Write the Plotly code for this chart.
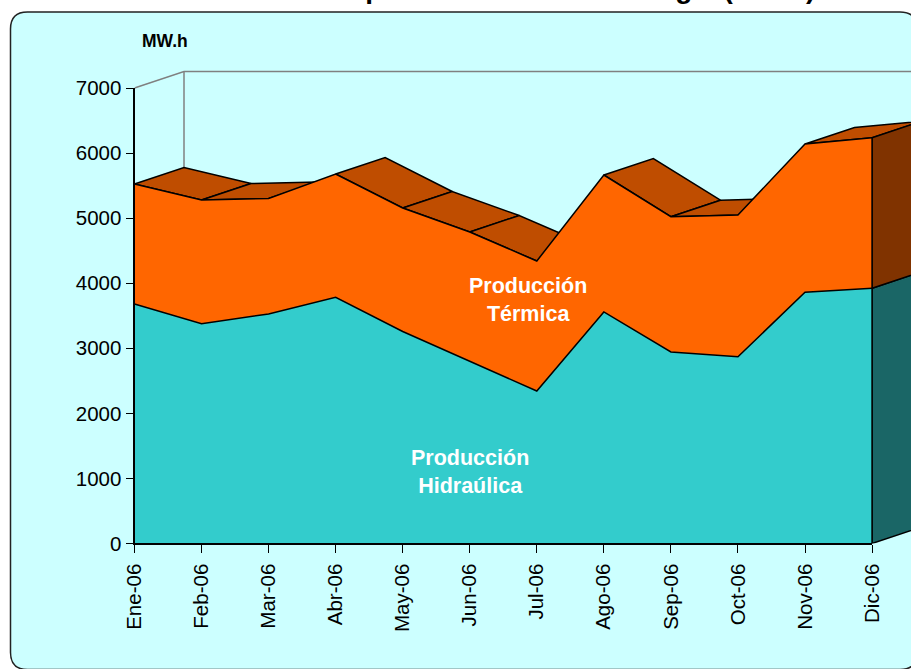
import plotly.graph_objects as go

months = ["Ene-06", "Feb-06", "Mar-06", "Abr-06", "May-06", "Jun-06",
          "Jul-06", "Ago-06", "Sep-06", "Oct-06", "Nov-06", "Dic-06"]
hidraulica = [3680, 3378, 3527, 3784, 3258, 2805, 2344, 3558, 2943, 2871, 3860, 3922]
termica = [1845, 1901, 1775, 1895, 1898, 1982, 1997, 2105, 2079, 2177, 2280, 2314]
y_ticks = [0, 1000, 2000, 3000, 4000, 5000, 6000, 7000]

# chart geometry (pixels in the 911x669 page)
W, H = 911, 669
X0, Y0 = 134.5, 543.5
PX_MONTH = 67.05
PX_UNIT = 455.5 / 7000
DEPTH_X = 49.5 / PX_MONTH     # in months
DEPTH_Y = 16.5 / PX_UNIT      # in MW.h
EDGE = 0.75                   # half the width of the overlay axis lines, in pixels

BG = "#CCFFFF"
C_HYD, C_TER = "#33CCCC", "#FF6600"
C_TOP, C_SIDE_T, C_SIDE_H = "#BF4D00", "#803300", "#1A6666"
LINE = dict(color="black", width=1.5)
WALL = dict(color="#808080", width=1.5)

xs = list(range(len(months)))
total = [h + t for h, t in zip(hidraulica, termica)]
x_end = (W - X0) / PX_MONTH
last = xs[-1]
top = y_ticks[-1]

fig = go.Figure()


def poly(px, py, color):
    fig.add_trace(go.Scatter(x=px + px[:1], y=py + py[:1], mode="lines", fill="toself",
                             fillcolor=color, line=LINE, hoverinfo="skip", showlegend=False))


def seg(px, py, line):
    fig.add_trace(go.Scatter(x=px, y=py, mode="lines", line=line, hoverinfo="skip", showlegend=False))


# back wall
seg([0, DEPTH_X, x_end], [top, top + DEPTH_Y, top + DEPTH_Y], WALL)
seg([DEPTH_X, DEPTH_X], [top + DEPTH_Y, 0], WALL)

# top faces of the upper series; faces turned away from the viewer are culled
for i in range(last):
    if total[i + 1] - total[i] < DEPTH_Y / DEPTH_X:
        poly([xs[i], xs[i + 1], xs[i + 1] + DEPTH_X, xs[i] + DEPTH_X],
             [total[i], total[i + 1], total[i + 1] + DEPTH_Y, total[i] + DEPTH_Y], C_TOP)

# right-hand side faces
poly([last, last + DEPTH_X, last + DEPTH_X, last],
     [0, DEPTH_Y, hidraulica[-1] + DEPTH_Y, hidraulica[-1]], C_SIDE_H)
poly([last, last + DEPTH_X, last + DEPTH_X, last],
     [hidraulica[-1], hidraulica[-1] + DEPTH_Y, total[-1] + DEPTH_Y, total[-1]], C_SIDE_T)

# front stacked areas
fig.add_trace(go.Scatter(x=xs, y=hidraulica, name="Producción Hidraúlica", stackgroup="a",
                         mode="lines", line=LINE, fillcolor=C_HYD,
                         hoverinfo="skip", showlegend=False))
fig.add_trace(go.Scatter(x=xs, y=termica, name="Producción Térmica", stackgroup="a",
                         mode="lines", line=LINE, fillcolor=C_TER,
                         hoverinfo="skip", showlegend=False))

# front edge at December
seg([last, last], [0, total[-1]], LINE)

# overlay axes whose lines draw the left and bottom front edges (Ene-06..Dic-06, 0..7000)
fig.add_trace(go.Scatter(x=[0, last], y=[0, top], mode="lines", line=dict(color="rgba(0,0,0,0)", width=0),
                         xaxis="x2", yaxis="y2", hoverinfo="skip", showlegend=False))

FONT = "Liberation Sans, Arial, sans-serif"
panel_l, panel_t, panel_r, panel_b, rad = 10.5, 12.0, 917.0, 669.5, 17.0


def px(v):
    return v / W


def py(v):
    return 1 - v / H


panel = (f"M {px(panel_l)} {py(panel_t + rad)} Q {px(panel_l)} {py(panel_t)} {px(panel_l + rad)} {py(panel_t)} "
         f"L {px(panel_r - rad)} {py(panel_t)} Q {px(panel_r)} {py(panel_t)} {px(panel_r)} {py(panel_t + rad)} "
         f"L {px(panel_r)} {py(panel_b - rad)} Q {px(panel_r)} {py(panel_b)} {px(panel_r - rad)} {py(panel_b)} "
         f"L {px(panel_l + rad)} {py(panel_b)} Q {px(panel_l)} {py(panel_b)} {px(panel_l)} {py(panel_b - rad)} Z")

fig.update_layout(
    width=W, height=H, autosize=False,
    margin=dict(l=0, r=0, t=0, b=0, autoexpand=False),
    paper_bgcolor="white", plot_bgcolor="rgba(0,0,0,0)",
    showlegend=False,
    font=dict(family=FONT, color="black"),
    shapes=[dict(type="path", path=panel, xref="paper", yref="paper", fillcolor=BG,
                 line=dict(color="#222222", width=1.5), layer="below")],
    xaxis=dict(domain=[X0 / W, 1], range=[0, x_end], tickmode="array", tickvals=xs, ticktext=months,
               tickangle=-90, ticks="outside", ticklen=8, tickwidth=1, tickcolor="black",
               ticklabelstandoff=3,
               tickfont=dict(size=20.5, family=FONT, color="black"),
               showgrid=False, zeroline=False, showline=False, anchor="y", fixedrange=True),
    yaxis=dict(domain=[1 - Y0 / H, 1], range=[0, Y0 / PX_UNIT], tickmode="array", tickvals=y_ticks,
               ticks="outside", ticklen=8, tickwidth=1, tickcolor="black",
               tickfont=dict(size=20.5, family=FONT, color="black"),
               showgrid=False, zeroline=False, showline=False, anchor="x", fixedrange=True),
    xaxis2=dict(domain=[(X0 + EDGE) / W, (X0 + last * PX_MONTH) / W], range=[0, last], anchor="y2",
                showline=True, linecolor="black", linewidth=1.5, ticks="", showticklabels=False,
                showgrid=False, zeroline=False, fixedrange=True),
    yaxis2=dict(domain=[1 - (Y0 - EDGE) / H, 1 - (Y0 - top * PX_UNIT) / H], range=[0, top], anchor="x2",
                showline=True, linecolor="black", linewidth=1.5, ticks="", showticklabels=False,
                showgrid=False, zeroline=False, fixedrange=True),
    annotations=[
        dict(text="Composición Anual de Energía (MW.h)", xref="paper", yref="paper", x=817 / W, y=py(6),
             xanchor="right", yanchor="bottom", showarrow=False,
             font=dict(size=28, family=FONT, color="black", weight="bold")),
        dict(text="<b>MW.h</b>", xref="paper", yref="paper", x=165 / W, y=py(41),
             xanchor="center", yanchor="middle", showarrow=False,
             font=dict(size=17.5, family=FONT, color="black")),
        dict(text="<b>Producción<br>Térmica</b>", xref="paper", yref="paper", x=528 / W, y=py(300),
             xanchor="center", yanchor="middle", showarrow=False,
             font=dict(size=21.5, family=FONT, color="white")),
        dict(text="<b>Producción<br>Hidraúlica</b>", xref="paper", yref="paper", x=470 / W, y=py(472),
             xanchor="center", yanchor="middle", showarrow=False,
             font=dict(size=21.5, family=FONT, color="white")),
    ],
)

fig.write_html("out.html", config=dict(displayModeBar=False),
               post_script="document.body.style.margin='0';document.documentElement.style.overflow='hidden';")
